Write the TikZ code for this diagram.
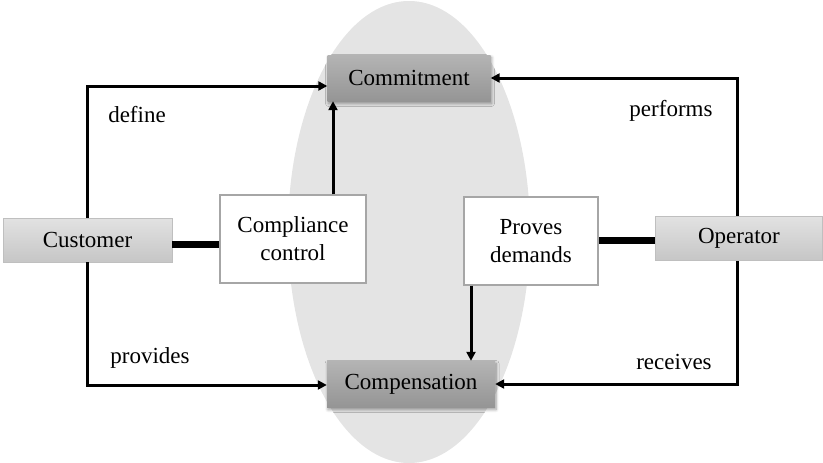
\documentclass[tikz,border=0pt]{standalone}
\usepackage{fontspec}
\setmainfont{Liberation Serif}
\usetikzlibrary{arrows.meta,shadows.blur}
\definecolor{gtop}{HTML}{B4B4B4}
\definecolor{gbot}{HTML}{959595}
\definecolor{stop}{HTML}{E2E2E2}
\definecolor{sbot}{HTML}{C6C6C6}
\definecolor{ellfill}{HTML}{E4E4E4}
\tikzset{
  graybox/.style={draw=none, top color=gtop, bottom color=gbot, blur shadow={shadow blur steps=6, shadow xshift=1pt, shadow yshift=-2.5pt, shadow blur radius=3pt}, minimum height=46pt, inner sep=0pt, font=\fontsize{23}{27}\selectfont},
  sidebox/.style={draw=black!25, line width=0.8pt, top color=stop, bottom color=sbot, minimum height=44pt, inner sep=0pt, font=\fontsize{23}{27}\selectfont},
  whitebox/.style={draw=black!35, line width=1.2pt, fill=white, inner sep=0pt, align=center, font=\fontsize{23}{28}\selectfont},
  conn/.style={line width=3pt, -{Triangle[length=9pt,width=9pt]}},
  thick conn/.style={line width=7pt},
  lbl/.style={font=\fontsize{23}{27}\selectfont, inner sep=0pt}
}
\begin{document}
\begin{tikzpicture}[x=1pt,y=-1pt]
\useasboundingbox (0,0) rectangle (823,463);
\fill[ellfill] (409,232) ellipse [x radius=121, y radius=231];
\node[graybox, minimum width=163pt] (commit) at (409,78) {Commitment};
\node[graybox, minimum width=168pt] (comp) at (411,384) {Compensation};
\node[sidebox, minimum width=169pt] (cust) at (87.5,240) {Customer};
\node[sidebox, minimum width=167pt] (oper) at (739,238.5) {Operator};
\node[whitebox, minimum width=146pt, minimum height=88pt] (compl) at (293,239) {Compliance\\control};
\node[whitebox, minimum width=134pt, minimum height=88pt] (prove) at (531,241) {Proves\\demands};
\coordinate (c1) at (87,86);
\coordinate (c2) at (87,385);
\coordinate (o1) at (737,78);
\coordinate (o2) at (737,384);
\draw[conn] (cust.north -| c1) |- (commit.west |- c1);
\draw[conn] (cust.south -| c2) |- (comp.west |- c2);
\draw[conn] (oper.north -| o1) |- (commit.east |- o1);
\draw[conn] (oper.south -| o2) |- (comp.east |- o2);
\draw[thick conn] (cust.east |- 0,244) -- (compl.west |- 0,244);
\draw[thick conn] (oper.west |- 0,240) -- (prove.east |- 0,240);
\draw[conn] (compl.north -| 333,0) -- (commit.south -| 333,0);
\draw[conn] (prove.south -| 471,0) -- (comp.north -| 471,0);
\node[lbl] (ldef) at (137,115) {define};
\node[lbl] (lperf) at (671,111) {performs};
\node[lbl] (lprov) at (150,358) {provides};
\node[lbl] (lrec) at (674,362) {receives};
\end{tikzpicture}
\end{document}
